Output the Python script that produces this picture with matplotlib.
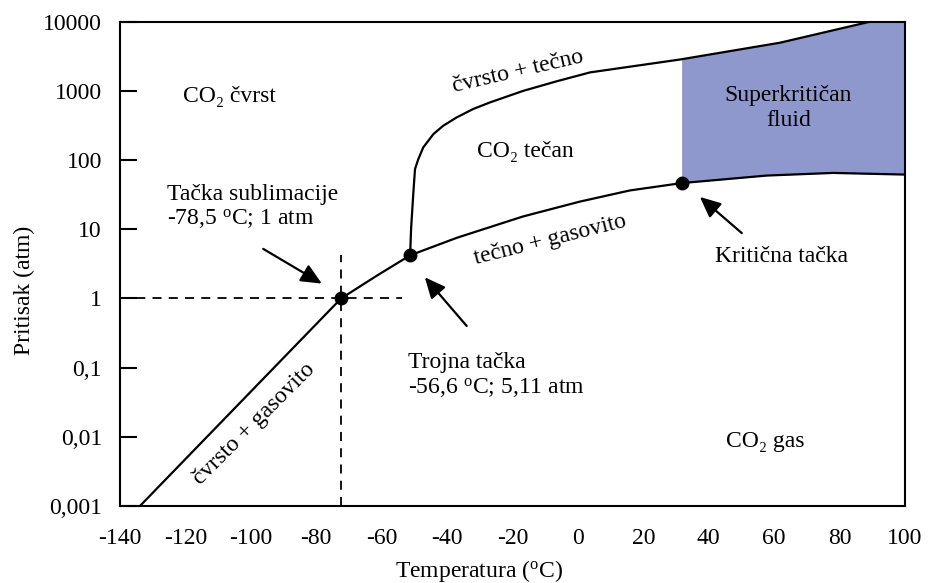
import numpy as np
import matplotlib
matplotlib.use("Agg")
import matplotlib.pyplot as plt

plt.rcParams['font.family'] = ['Liberation Serif', 'DejaVu Serif']
plt.rcParams['mathtext.fontset'] = 'custom'
plt.rcParams['mathtext.rm'] = 'Liberation Serif'
plt.rcParams['mathtext.it'] = 'Liberation Serif:italic'

# ---- data ----
x_ticks = [-140, -120, -100, -80, -60, -40, -20, 0, 20, 40, 60, 80, 100]
y_ticks = [0.001, 0.01, 0.1, 1, 10, 100, 1000, 10000]
y_tick_labels = ['0,001', '0,01', '0,1', '1', '10', '100', '1000', '10000']

# solid + gas (sublimation) curve
sub_t = [-133.9, -72.4, -61.5, -51.3]
sub_p = [0.001, 1.0, 2.13, 4.2]

# solid + liquid (melting) curve
melt_t = [-51.3, -51.0, -50.3, -49.8, -48.8, -47.3, -44.2, -41.2, -37.1, -32.1, -26.9,
          -16.8, -6.4, 3.7, 31.2, 61.8, 89.3]
melt_p = [4.2, 10.3, 34.6, 74.4, 103, 152, 237, 313, 413, 545, 681,
          998, 1380, 1850, 2840, 4970, 10000]

# liquid + gas (vaporization) curve
vap_t = [-51.3, -37.0, -16.8, 0.6, 15.9, 31.7, 57.7, 78.0, 100]
vap_p = [4.2, 7.53, 15.3, 25.1, 36.4, 46.5, 59.7, 65.2, 61.7]

# marked points: sublimation point, triple point, critical point
pts_t = [-72.4, -51.3, 31.7]
pts_p = [1.0, 4.2, 46.5]

fill_color = '#8E98CD'
FS = 17

fig = plt.figure(figsize=(9.29, 5.83), dpi=100)
ax = fig.add_axes([120/929, 1-506/583, 785/929, 484.3/583])
ax.set_yscale('log')
ax.set_xlim(-140, 100)
ax.set_ylim(0.001, 10000)

# supercritical region
xs = np.linspace(pts_t[2], 100, 300)
low = 10**np.interp(xs, vap_t, np.log10(vap_p))
high = 10**np.interp(xs, melt_t, np.log10(melt_p), right=np.log10(10000))
ax.fill_between(xs, low, high, color=fill_color, lw=0, zorder=1)

# curves
for t, p in [(sub_t, sub_p), (melt_t, melt_p), (vap_t, vap_p)]:
    ax.plot(t, p, color='black', lw=1.6, solid_capstyle='round',
            solid_joinstyle='round', zorder=3)

# dashed guides through the sublimation point
ax.plot([-140, -53.9], [1, 1], color='black', lw=1.3, ls=(0, (5, 4)), zorder=2)
ax.plot([pts_t[0], pts_t[0]], [0.001, 4.2], color='black', lw=1.3, ls=(0, (5, 4)), zorder=2)

ax.plot(pts_t, pts_p, 'o', color='black', ms=9, zorder=4)

# arrows
arr = dict(arrowstyle='-|>,head_length=0.7,head_width=0.32', color='black', lw=1.6,
           mutation_scale=18, shrinkA=0, shrinkB=0)
ax.annotate('', xy=(-78.3, 1.64), xytext=(-96.2, 5.2), arrowprops=arr)
ax.annotate('', xy=(-46.8, 2.02), xytext=(-34.0, 0.40), arrowprops=arr)
ax.annotate('', xy=(37.3, 29.3), xytext=(50.1, 8.8), arrowprops=arr)

# texts
ax.text(-120.7, 817, 'CO₂ čvrst', fontsize=FS, ha='left', va='center')
ax.text(-30.8, 132, 'CO₂ tečan', fontsize=FS, ha='left', va='center')
ax.text(64.4, 575, 'Superkritičan\nfluid', fontsize=FS, ha='center', va='center',
        linespacing=1.25)
ax.text(45.3, 0.00849, 'CO₂ gas', fontsize=FS, ha='left', va='center')
ax.text(41.9, 4.01, 'Kritična tačka', fontsize=FS, ha='left', va='center')
ax.text(-125.6, 20.6, 'Tačka sublimacije\n-78,5 $^{\\rm o}$C; 1 atm', fontsize=FS,
        ha='left', va='center', linespacing=1.15)
ax.text(-52.0, 0.0762, 'Trojna tačka\n-56,6 $^{\\rm o}$C; 5,11 atm', fontsize=FS,
        ha='left', va='center', linespacing=1.15)
ax.text(-18.2, 1892, 'čvrsto + tečno', fontsize=FS, ha='center', va='center',
        rotation=13, rotation_mode='anchor')
ax.text(-8.5, 7.0, 'tečno + gasovito', fontsize=FS, ha='center', va='center',
        rotation=14, rotation_mode='anchor')
ax.text(-99.0, 0.0153, 'čvrsto + gasovito', fontsize=FS, ha='center', va='center',
        rotation=45, rotation_mode='anchor')

# axes styling
ax.set_xticks(x_ticks)
ax.set_xticklabels([str(v) for v in x_ticks])
ax.set_yticks(y_ticks)
ax.set_yticklabels(y_tick_labels)
ax.yaxis.set_minor_locator(matplotlib.ticker.NullLocator())
ax.tick_params(axis='y', direction='in', length=12, width=1.5, pad=13, labelsize=FS)
ax.tick_params(axis='x', length=0, pad=16, labelsize=FS)
for s in ax.spines.values():
    s.set_linewidth(1.5)

ax.set_xlabel('Temperatura ($^{\\rm o}$C)', fontsize=FS)
ax.xaxis.set_label_coords(0.457, -0.108)
ax.set_ylabel('Pritisak (atm)', fontsize=FS)
ax.yaxis.set_label_coords(-0.108, 0.446)

fig.savefig('out.png', dpi=100)
